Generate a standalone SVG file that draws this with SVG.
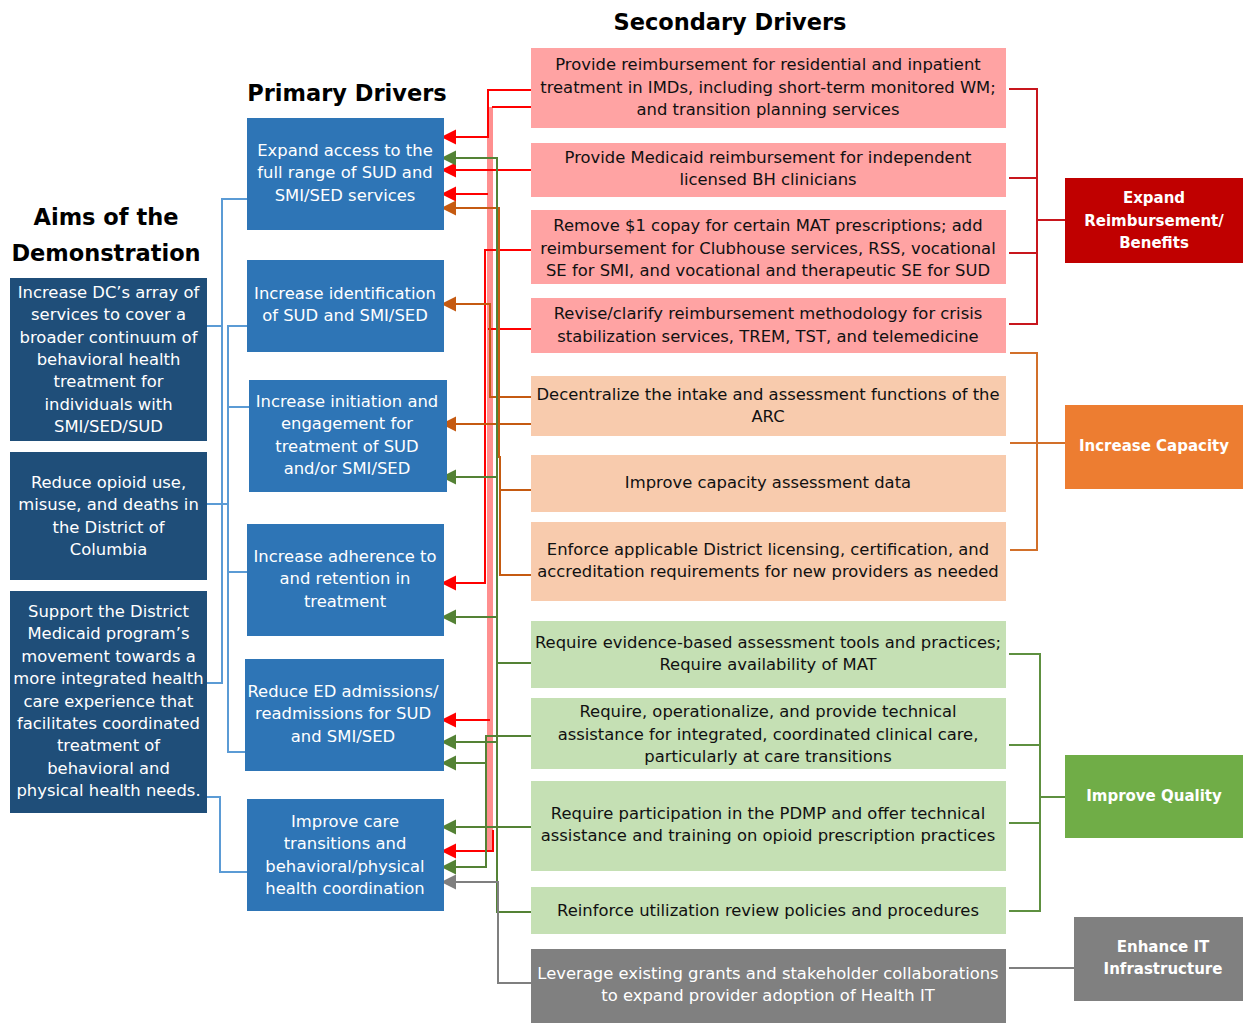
<svg xmlns="http://www.w3.org/2000/svg" width="1243" height="1023" viewBox="0 0 1243 1023">
  <style>
    text { font-family: "DejaVu Sans", "Liberation Sans", sans-serif; font-size: 16.4px; text-anchor: middle; }
    .title { font-size: 22.5px; font-weight: bold; fill: #000; }
    .w { fill: #fff; }
    .k { fill: #111; }
    .cat { font-size: 15px; font-weight: bold; fill: #fff; }
    .aim { fill: #1F4E79; }
    .pri { fill: #2E75B6; }
    .sr { fill: #FFA3A3; }
    .so { fill: #F8CBAD; }
    .sg { fill: #C5E0B4; }
    .sx { fill: #808080; }
    .ln { fill: none; stroke-width: 2; }
    .blue { stroke: #5B9BD5; }
    .red { stroke: #FF0000; }
    .org { stroke: #C55A11; }
    .grn { stroke: #548235; }
    .gry { stroke: #7F7F7F; }
    .rred { stroke: #C8161D; }
    .rorg { stroke: #D2702A; }
    .rgrn { stroke: #5E9040; }
    .ar { marker-end: url(#mRed); }
    .ao { marker-end: url(#mOrg); }
    .ag { marker-end: url(#mGrn); }
    .ax { marker-end: url(#mGry); }
  </style>
  <defs>
    <marker id="mRed" markerUnits="userSpaceOnUse" markerWidth="16" markerHeight="16" refX="9" refY="7.5" orient="auto">
      <path d="M0,0 L15,7.5 L0,15 Z" fill="#FF0000"/>
    </marker>
    <marker id="mOrg" markerUnits="userSpaceOnUse" markerWidth="16" markerHeight="16" refX="9" refY="7.5" orient="auto">
      <path d="M0,0 L15,7.5 L0,15 Z" fill="#C55A11"/>
    </marker>
    <marker id="mGrn" markerUnits="userSpaceOnUse" markerWidth="16" markerHeight="16" refX="9" refY="7.5" orient="auto">
      <path d="M0,0 L15,7.5 L0,15 Z" fill="#548235"/>
    </marker>
    <marker id="mGry" markerUnits="userSpaceOnUse" markerWidth="16" markerHeight="16" refX="9" refY="7.5" orient="auto">
      <path d="M0,0 L15,7.5 L0,15 Z" fill="#7F7F7F"/>
    </marker>
  </defs>

  <rect width="1243" height="1023" fill="#fff"/>

  <!-- Column headings -->
  <text class="title" x="730" y="30">Secondary Drivers</text>
  <text class="title" x="347" y="101">Primary Drivers</text>
  <text class="title" x="106" y="225">Aims of the</text>
  <text class="title" x="106" y="261">Demonstration</text>

  <!-- Connectors -->
  <g id="connectors">
    <!-- aims to primary drivers -->
    <g class="ln blue">
      <polyline points="247,199 222,199 222,683 207,683"/>
      <line x1="207" y1="326" x2="222" y2="326"/>
      <line x1="207" y1="504" x2="228" y2="504"/>
      <polyline points="247,326 228,326 228,752 246,752"/>
      <line x1="228" y1="407" x2="249" y2="407"/>
      <line x1="228" y1="572" x2="247" y2="572"/>
      <polyline points="207,797 220,797 220,872 247,872"/>
    </g>

    <!-- reimbursement drivers (red) -->
    <line x1="490" y1="107" x2="490" y2="851" stroke="#FF8F8F" stroke-width="6"/>
    <g class="ln red">
      <polyline class="ar" points="531,90 488,90 488,137 447,137"/>
      <polyline points="531,107 492,107"/>
      <line class="ar" x1="531" y1="170" x2="447" y2="170"/>
      <line class="ar" x1="488" y1="194" x2="447" y2="194"/>
      <polyline class="ar" points="531,250 485,250 485,583 447,583"/>
      <line x1="531" y1="329" x2="488" y2="329"/>
      <line class="ar" x1="490" y1="720" x2="447" y2="720"/>
      <polyline class="ar" points="493,830 493,851 447,851"/>
    </g>

    <!-- capacity drivers (orange) -->
    <g class="ln org">
      <polyline class="ao" points="531,575 500,575 500,457 499,457 499,208 447,208"/>
      <line x1="500" y1="490" x2="531" y2="490"/>
      <polyline class="ao" points="531,397 490,397 490,304 447,304"/>
      <line class="ao" x1="531" y1="424" x2="447" y2="424"/>
    </g>

    <!-- quality drivers (green) -->
    <g class="ln grn">
      <polyline class="ag" points="531,912 497,912 497,158 447,158"/>
      <line x1="531" y1="663" x2="497" y2="663"/>
      <line class="ag" x1="497" y1="477" x2="447" y2="477"/>
      <line class="ag" x1="497" y1="617" x2="447" y2="617"/>
      <line class="ag" x1="497" y1="742" x2="447" y2="742"/>
      <polyline class="ag" points="531,736 486,736 486,867 447,867"/>
      <line class="ag" x1="486" y1="763" x2="447" y2="763"/>
      <line class="ag" x1="531" y1="827" x2="447" y2="827"/>
    </g>

    <!-- health IT driver (gray) -->
    <polyline class="ln gry ax" points="531,983 498,983 498,882 447,882"/>

    <!-- secondary drivers to categories -->
    <g class="ln rred">
      <polyline points="1009,89 1037,89 1037,324 1009,324"/>
      <line x1="1009" y1="178" x2="1037" y2="178"/>
      <line x1="1009" y1="253" x2="1037" y2="253"/>
      <line x1="1037" y1="220" x2="1065" y2="220"/>
    </g>
    <g class="ln rorg">
      <polyline points="1010,353 1037,353 1037,550 1010,550"/>
      <line x1="1010" y1="443" x2="1065" y2="443"/>
    </g>
    <g class="ln rgrn">
      <polyline points="1009,654 1040,654 1040,911 1009,911"/>
      <line x1="1009" y1="745" x2="1040" y2="745"/>
      <line x1="1009" y1="823" x2="1040" y2="823"/>
      <line x1="1040" y1="797" x2="1065" y2="797"/>
    </g>
    <line class="ln gry" x1="1009" y1="968" x2="1074" y2="968"/>
  </g>

  <!-- Aims -->
  <g id="aim-1">
    <rect class="aim" x="10" y="278" width="197" height="163"/>
    <text class="w" y="298"><tspan x="108.5">Increase DC’s array of</tspan><tspan x="108.5" dy="22.3">services to cover a</tspan><tspan x="108.5" dy="22.3">broader continuum of</tspan><tspan x="108.5" dy="22.3">behavioral health</tspan><tspan x="108.5" dy="22.3">treatment for</tspan><tspan x="108.5" dy="22.3">individuals with</tspan><tspan x="108.5" dy="22.3">SMI/SED/SUD</tspan></text>
  </g>
  <g id="aim-2">
    <rect class="aim" x="10" y="452" width="197" height="128"/>
    <text class="w" y="488"><tspan x="108.5">Reduce opioid use,</tspan><tspan x="108.5" dy="22.3">misuse, and deaths in</tspan><tspan x="108.5" dy="22.3">the District of</tspan><tspan x="108.5" dy="22.3">Columbia</tspan></text>
  </g>
  <g id="aim-3">
    <rect class="aim" x="10" y="591" width="197" height="222"/>
    <text class="w" y="617"><tspan x="108.5">Support the District</tspan><tspan x="108.5" dy="22.4">Medicaid program’s</tspan><tspan x="108.5" dy="22.4">movement towards a</tspan><tspan x="108.5" dy="22.4">more integrated health</tspan><tspan x="108.5" dy="22.4">care experience that</tspan><tspan x="108.5" dy="22.4">facilitates coordinated</tspan><tspan x="108.5" dy="22.4">treatment of</tspan><tspan x="108.5" dy="22.4">behavioral and</tspan><tspan x="108.5" dy="22.4">physical health needs.</tspan></text>
  </g>

  <!-- Primary drivers -->
  <g id="primary-1">
    <rect class="pri" x="247" y="118" width="197" height="112"/>
    <text class="w" y="156"><tspan x="345">Expand access to the</tspan><tspan x="345" dy="22.4">full range of SUD and</tspan><tspan x="345" dy="22.4">SMI/SED services</tspan></text>
  </g>
  <g id="primary-2">
    <rect class="pri" x="247" y="260" width="197" height="92"/>
    <text class="w" y="299"><tspan x="345">Increase identification</tspan><tspan x="345" dy="22.4">of SUD and SMI/SED</tspan></text>
  </g>
  <g id="primary-3">
    <rect class="pri" x="249" y="380" width="198" height="112"/>
    <text class="w" y="407"><tspan x="347">Increase initiation and</tspan><tspan x="347" dy="22.4">engagement for</tspan><tspan x="347" dy="22.4">treatment of SUD</tspan><tspan x="347" dy="22.4">and/or SMI/SED</tspan></text>
  </g>
  <g id="primary-4">
    <rect class="pri" x="247" y="524" width="197" height="112"/>
    <text class="w" y="562"><tspan x="345">Increase adherence to</tspan><tspan x="345" dy="22.4">and retention in</tspan><tspan x="345" dy="22.4">treatment</tspan></text>
  </g>
  <g id="primary-5">
    <rect class="pri" x="245" y="659" width="199" height="112"/>
    <text class="w" y="697"><tspan x="343">Reduce ED admissions/</tspan><tspan x="343" dy="22.4">readmissions for SUD</tspan><tspan x="343" dy="22.4">and SMI/SED</tspan></text>
  </g>
  <g id="primary-6">
    <rect class="pri" x="247" y="799" width="197" height="112"/>
    <text class="w" y="827"><tspan x="345">Improve care</tspan><tspan x="345" dy="22.4">transitions and</tspan><tspan x="345" dy="22.4">behavioral/physical</tspan><tspan x="345" dy="22.4">health coordination</tspan></text>
  </g>

  <!-- Secondary drivers -->
  <g id="secondary-1">
    <rect class="sr" x="531" y="48" width="475" height="80"/>
    <text class="k" y="70"><tspan x="768">Provide reimbursement for residential and inpatient</tspan><tspan x="768" dy="22.5">treatment in IMDs, including short-term monitored WM;</tspan><tspan x="768" dy="22.5">and transition planning services</tspan></text>
  </g>
  <g id="secondary-2">
    <rect class="sr" x="531" y="143" width="475" height="54"/>
    <text class="k" y="163"><tspan x="768">Provide Medicaid reimbursement for independent</tspan><tspan x="768" dy="22.3">licensed BH clinicians</tspan></text>
  </g>
  <g id="secondary-3">
    <rect class="sr" x="531" y="210" width="475" height="74"/>
    <text class="k" y="231"><tspan x="768">Remove $1 copay for certain MAT prescriptions; add</tspan><tspan x="768" dy="22.5">reimbursement for Clubhouse services, RSS, vocational</tspan><tspan x="768" dy="22.5">SE for SMI, and vocational and therapeutic SE for SUD</tspan></text>
  </g>
  <g id="secondary-4">
    <rect class="sr" x="531" y="298" width="475" height="55"/>
    <text class="k" y="319"><tspan x="768">Revise/clarify reimbursement methodology for crisis</tspan><tspan x="768" dy="22.5">stabilization services, TREM, TST, and telemedicine</tspan></text>
  </g>
  <g id="secondary-5">
    <rect class="so" x="531" y="376" width="475" height="60"/>
    <text class="k" y="400"><tspan x="768">Decentralize the intake and assessment functions of the</tspan><tspan x="768" dy="22.3">ARC</tspan></text>
  </g>
  <g id="secondary-6">
    <rect class="so" x="531" y="455" width="475" height="57"/>
    <text class="k" x="768" y="488">Improve capacity assessment data</text>
  </g>
  <g id="secondary-7">
    <rect class="so" x="531" y="522" width="475" height="79"/>
    <text class="k" y="555"><tspan x="768">Enforce applicable District licensing, certification, and</tspan><tspan x="768" dy="22.3">accreditation requirements for new providers as needed</tspan></text>
  </g>
  <g id="secondary-8">
    <rect class="sg" x="531" y="621" width="475" height="67"/>
    <text class="k" y="648"><tspan x="768">Require evidence-based assessment tools and practices;</tspan><tspan x="768" dy="22.3">Require availability of MAT</tspan></text>
  </g>
  <g id="secondary-9">
    <rect class="sg" x="531" y="698" width="475" height="71"/>
    <text class="k" y="717"><tspan x="768">Require, operationalize, and provide technical</tspan><tspan x="768" dy="22.6">assistance for integrated, coordinated clinical care,</tspan><tspan x="768" dy="22.6">particularly at care transitions</tspan></text>
  </g>
  <g id="secondary-10">
    <rect class="sg" x="531" y="781" width="475" height="90"/>
    <text class="k" y="819"><tspan x="768">Require participation in the PDMP and offer technical</tspan><tspan x="768" dy="22.3">assistance and training on opioid prescription practices</tspan></text>
  </g>
  <g id="secondary-11">
    <rect class="sg" x="531" y="887" width="475" height="47"/>
    <text class="k" x="768" y="916">Reinforce utilization review policies and procedures</text>
  </g>
  <g id="secondary-12">
    <rect class="sx" x="531" y="949" width="475" height="74"/>
    <text class="w" y="979"><tspan x="768">Leverage existing grants and stakeholder collaborations</tspan><tspan x="768" dy="22.3">to expand provider adoption of Health IT</tspan></text>
  </g>

  <!-- Driver categories -->
  <g id="cat-reimbursement">
    <rect x="1065" y="178" width="178" height="85" fill="#C00000"/>
    <text class="cat" y="203"><tspan x="1154">Expand</tspan><tspan x="1154" dy="22.5">Reimbursement/</tspan><tspan x="1154" dy="22.5">Benefits</tspan></text>
  </g>
  <g id="cat-capacity">
    <rect x="1065" y="405" width="178" height="84" fill="#ED7D31"/>
    <text class="cat" x="1154" y="451">Increase Capacity</text>
  </g>
  <g id="cat-quality">
    <rect x="1065" y="755" width="178" height="83" fill="#70AD47"/>
    <text class="cat" x="1154" y="801">Improve Quality</text>
  </g>
  <g id="cat-it">
    <rect x="1074" y="917" width="169" height="84" fill="#808080"/>
    <text class="cat" y="952"><tspan x="1163">Enhance IT</tspan><tspan x="1163" dy="22">Infrastructure</tspan></text>
  </g>
</svg>
